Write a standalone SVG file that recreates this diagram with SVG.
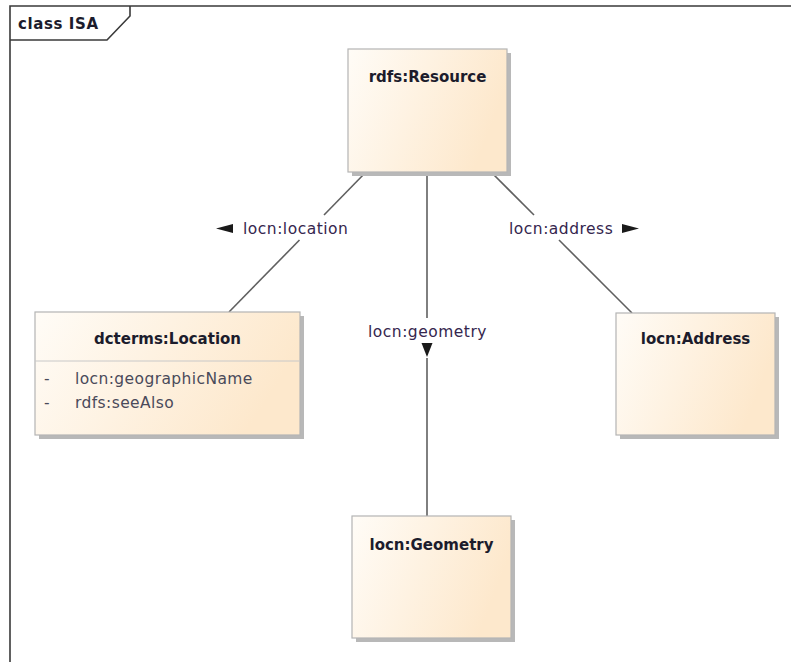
<svg xmlns="http://www.w3.org/2000/svg" width="791" height="662" viewBox="0 0 791 662">
  <style>
    .frame { fill: none; stroke: #3a3a3a; stroke-width: 1.6; }
    .box { fill: url(#nodeFill); stroke: #b4b4b4; stroke-width: 1.2; }
    .shadow { fill: #b8b8b8; }
    .divider { stroke: #c8c8c8; stroke-width: 1; }
    .title { font-family: "DejaVu Sans", Verdana, sans-serif; font-weight: bold; font-size: 15px; fill: #1c1c2c; }
    .attr { font-family: "DejaVu Sans", Verdana, sans-serif; font-size: 15.5px; fill: #4a4a5a; letter-spacing: 0.4px; }
    .label { font-family: "DejaVu Sans", Verdana, sans-serif; font-size: 15.5px; fill: #35264e; letter-spacing: 0.5px; }
    .frame-title { font-family: "DejaVu Sans", Verdana, sans-serif; font-weight: bold; font-size: 15px; fill: #1c1c2c; letter-spacing: 0.6px; }
    .conn { stroke: #606060; stroke-width: 1.6; fill: none; }
    .dir { fill: #1a1a1a; }
  </style>
  <defs>
    <linearGradient id="nodeFill" x1="0" y1="0" x2="1" y2="0.3">
      <stop offset="0" stop-color="#fffcf7"/>
      <stop offset="1" stop-color="#fde8cc"/>
    </linearGradient>
  </defs>

  <rect x="0" y="0" width="791" height="662" fill="#ffffff"/>

  <!-- diagram frame with name tab -->
  <g id="frame">
    <path class="frame" d="M10,662 V6 H791"/>
    <path class="frame" d="M10,40 H107 L130,16 V6"/>
    <text class="frame-title" x="18" y="29">class ISA</text>
  </g>

  <!-- associations -->
  <g id="connectors">
    <path class="conn" d="M366,172 L324,215"/>
    <path class="conn" d="M299.5,240 L229,312"/>
    <path class="conn" d="M491,172 L534,215"/>
    <path class="conn" d="M559,240 L632,313"/>
    <path class="conn" d="M427,172 V318"/>
    <path class="conn" d="M427,358 V516"/>

    <polygon class="dir" points="216,228.5 233,224 233,233"/>
    <text class="label" x="243" y="234">locn:location</text>

    <text class="label" x="509" y="234">locn:address</text>
    <polygon class="dir" points="622,224 639,228.5 622,233"/>

    <text class="label" x="368" y="337">locn:geometry</text>
    <polygon class="dir" points="421.5,343 432.5,343 427,357"/>
  </g>

  <g id="rdfs-resource">
    <rect class="shadow" x="352" y="53" width="159" height="123"/>
    <rect class="box" x="348" y="49" width="159" height="123"/>
    <text class="title" x="427.5" y="82" text-anchor="middle">rdfs:Resource</text>
  </g>

  <g id="dcterms-location">
    <rect class="shadow" x="39" y="316" width="265" height="123"/>
    <rect class="box" x="35" y="312" width="265" height="123"/>
    <line class="divider" x1="35" y1="361" x2="300" y2="361"/>
    <text class="title" x="167.5" y="344" text-anchor="middle">dcterms:Location</text>
    <text class="attr" x="44" y="384">-</text>
    <text class="attr" x="75" y="384">locn:geographicName</text>
    <text class="attr" x="44" y="408">-</text>
    <text class="attr" x="75" y="408">rdfs:seeAlso</text>
  </g>

  <g id="locn-address">
    <rect class="shadow" x="620" y="317" width="159" height="122"/>
    <rect class="box" x="616" y="313" width="159" height="122"/>
    <text class="title" x="695.5" y="344" text-anchor="middle">locn:Address</text>
  </g>

  <g id="locn-geometry">
    <rect class="shadow" x="356" y="520" width="159" height="122"/>
    <rect class="box" x="352" y="516" width="159" height="122"/>
    <text class="title" x="431.5" y="550" text-anchor="middle">locn:Geometry</text>
  </g>
</svg>
